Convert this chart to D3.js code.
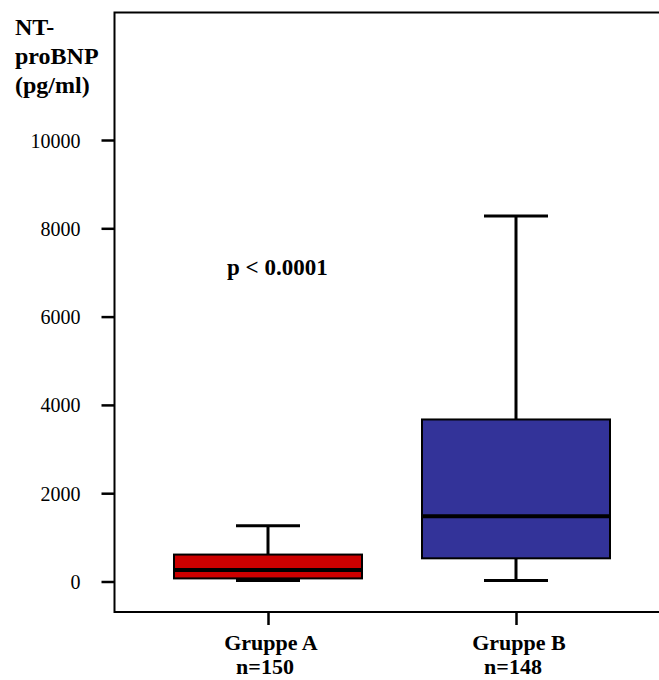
<!DOCTYPE html>
<head>
    <meta charset="utf-8">
    <title>NT-proBNP Boxplot</title>
    <style>
        body { margin: 0; background: #fff; }
        svg { display: block; }
        .lbl { font-family: "Liberation Serif", "Times New Roman", serif; font-weight: bold; fill: #000; }
    </style>
</head>
<body>
    <svg width="659" height="680"></svg>
    <script src="https://d3js.org/d3.v7.min.js"></script>
    <script>

    var groups = ["Gruppe A", "Gruppe B"];
    var counts = ["n=150", "n=148"];
    var whiskerLow = [20, 20];
    var q1 = [70, 525];
    var median = [260, 1480];
    var q3 = [610, 3670];
    var whiskerHigh = [1260, 8280];
    var fills = ["#cc0000", "#333399"];
    var yTicks = [0, 2000, 4000, 6000, 8000, 10000];

    var svg = d3.select("svg"),
        frameLeft = 114.5, frameTop = 12.5, frameBottom = 612, frameRight = 662,
        boxWidth = 188, capWidth = 64,
        serif = "'Liberation Serif', 'Times New Roman', serif";

    var y = d3.scaleLinear().domain([0, 10000]).range([581.5, 140]);
    var x = d3.scalePoint().domain(groups).range([268, 516]);

    // frame (right side runs off the image)
    svg.append("path")
        .attr("d", "M" + frameRight + "," + frameTop + "H" + frameLeft + "V" + frameBottom + "H" + frameRight)
        .attr("fill", "none").attr("stroke", "#000").attr("stroke-width", 2);

    var yAxis = svg.append("g")
        .attr("transform", "translate(" + frameLeft + ",0)")
        .call(d3.axisLeft(y).tickValues(yTicks).tickSize(13).tickPadding(21).tickFormat(d3.format("d")))
        .attr("font-family", serif).attr("font-size", 20);
    yAxis.select(".domain").remove();
    yAxis.selectAll(".tick line").attr("stroke", "#000").attr("stroke-width", 2.5);
    yAxis.selectAll(".tick text").attr("dy", "0.35em").attr("fill", "#000");

    var xAxis = svg.append("g")
        .attr("transform", "translate(0," + frameBottom + ")")
        .call(d3.axisBottom(x).tickSize(13).tickFormat(""));
    xAxis.select(".domain").remove();
    xAxis.selectAll(".tick line").attr("stroke", "#000").attr("stroke-width", 2.5);

    svg.selectAll(".glabel").data(groups).enter().append("text")
        .attr("class", "lbl").attr("font-size", 22)
        .attr("x", function(d) { return x(d) + 3; }).attr("y", 650)
        .attr("text-anchor", "middle").text(function(d) { return d; });
    svg.selectAll(".nlabel").data(counts).enter().append("text")
        .attr("class", "lbl").attr("font-size", 22)
        .attr("x", function(d, i) { return x(groups[i]) - 3; }).attr("y", 674)
        .attr("text-anchor", "middle").text(function(d) { return d; });

    // y title
    ["NT-", "proBNP", "(pg/ml)"].forEach(function(t, i) {
        svg.append("text").attr("class", "lbl").attr("font-size", 24)
            .attr("x", 15).attr("y", 35 + i * 29).text(t);
    });

    svg.append("text").attr("class", "lbl").attr("font-size", 23)
        .attr("x", 227).attr("y", 275).text("p < 0.0001");

    var box = svg.selectAll(".box").data(groups).enter().append("g").attr("class", "box");

    box.append("line")
        .attr("x1", function(d) { return x(d); }).attr("x2", function(d) { return x(d); })
        .attr("y1", function(d, i) { return y(whiskerLow[i]); })
        .attr("y2", function(d, i) { return y(whiskerHigh[i]); })
        .attr("stroke", "#000").attr("stroke-width", 3);

    [whiskerLow, whiskerHigh].forEach(function(arr) {
        box.append("line")
            .attr("x1", function(d) { return x(d) - capWidth / 2; })
            .attr("x2", function(d) { return x(d) + capWidth / 2; })
            .attr("y1", function(d, i) { return y(arr[i]); })
            .attr("y2", function(d, i) { return y(arr[i]); })
            .attr("stroke", "#000").attr("stroke-width", 3);
    });

    box.append("rect")
        .attr("x", function(d) { return x(d) - boxWidth / 2; })
        .attr("width", boxWidth)
        .attr("y", function(d, i) { return y(q3[i]); })
        .attr("height", function(d, i) { return y(q1[i]) - y(q3[i]); })
        .attr("fill", function(d, i) { return fills[i]; })
        .attr("stroke", "#000").attr("stroke-width", 2);

    box.append("line")
        .attr("x1", function(d) { return x(d) - boxWidth / 2; })
        .attr("x2", function(d) { return x(d) + boxWidth / 2; })
        .attr("y1", function(d, i) { return y(median[i]); })
        .attr("y2", function(d, i) { return y(median[i]); })
        .attr("stroke", "#000").attr("stroke-width", 4);

    </script>
</body>
</html>
